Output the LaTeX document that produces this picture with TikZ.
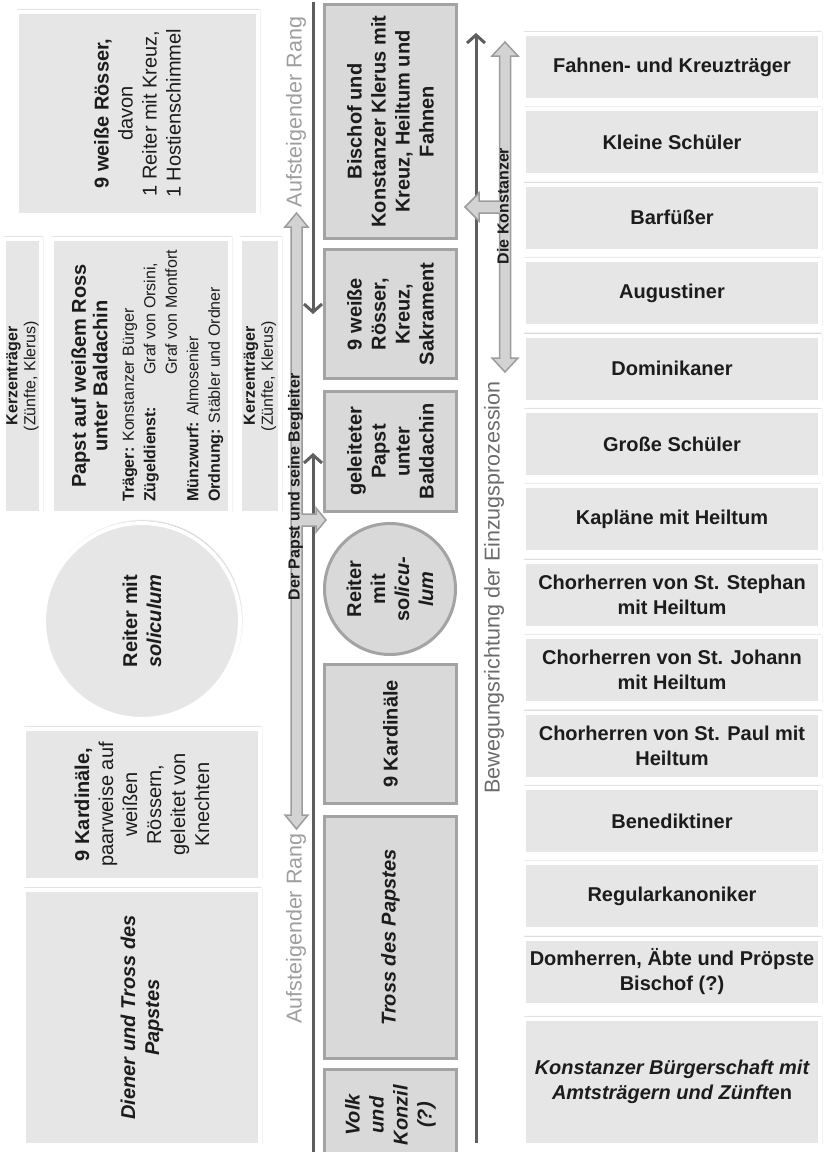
\documentclass[tikz,border=0pt]{standalone}
\usepackage{fontspec}
\setmainfont{Liberation Sans}
\usetikzlibrary{arrows.meta,shadows.blur}

\definecolor{outfill}{HTML}{E6E6E6}
\definecolor{midfill}{HTML}{D9D9D9}
\definecolor{midline}{HTML}{A3A3A3}
\definecolor{darkline}{HTML}{5E5E5E}
\definecolor{blockfill}{HTML}{D3D3D3}
\definecolor{blockline}{HTML}{9C9C9C}
\definecolor{rankgray}{HTML}{9E9E9E}
\definecolor{movegray}{HTML}{6B6B6B}
\definecolor{ink}{HTML}{1C1C1C}

\begin{document}
\begin{tikzpicture}[x=1pt,y=-1pt,
  every node/.style={text=ink,align=center},
  outbox/.style={draw=white,line width=4pt,fill=outfill,inner sep=1pt,
    blur shadow={shadow xshift=1pt,shadow yshift=1.5pt,shadow blur radius=2pt,shadow opacity=50},
    font=\fontsize{20}{24}\selectfont\bfseries},
  rowbox/.style={outbox,minimum width=296pt,minimum height=66pt,font=\fontsize{20}{25}\selectfont\bfseries},
  midbox/.style={draw=midline,line width=3pt,fill=midfill,inner sep=1pt,rotate=90,minimum height=132pt,
    font=\fontsize{20}{24}\selectfont\bfseries},
  rankarrow/.style={draw=darkline,line width=3pt,-{Straight Barb[length=8pt,width=18pt]}},
  blockarrow/.style={draw=blockline,line width=1.5pt,fill=blockfill},
  ranklabel/.style={rotate=90,text=rankgray,inner sep=0pt,font=\fontsize{21.5}{24}\selectfont},
  grouplabel/.style={rotate=90,inner sep=0pt,font=\fontsize{16}{18}\selectfont\bfseries}]
\clip (0,0) rectangle (824,1152);

% left column: the pope and his escort
\node[outbox,rotate=90,minimum width=203pt,minimum height=241pt] (roesserL) at (137.5,113.5)
  {9 weiße Rösser,\\\mdseries davon\\\mdseries 1 Reiter mit Kreuz,\\\mdseries 1 Hostienschimmel};
\node[outbox,rotate=90,minimum width=274pt,minimum height=37pt,font=\fontsize{16}{18}\selectfont] (kerzeL) at (22.5,376)
  {\textbf{Kerzenträger}\\(Zünfte, Klerus)};
\node[outbox,rotate=90,minimum width=274pt,minimum height=178pt,font=\fontsize{16}{21.5}\selectfont] (papstL) at (141,376)
  {\fontsize{20}{23}\selectfont\bfseries\rule{0pt}{30pt}Papst auf weißem Ross\\\fontsize{20}{23}\selectfont\bfseries unter Baldachin\\[5pt]
  \fontsize{16}{21.5}\selectfont\mdseries
  \begin{tabular}[t]{@{}l@{}}
  \textbf{Träger:} Konstanzer Bürger\\
  \textbf{Zügeldienst:}\hspace{32pt}\begin{tabular}[t]{@{}l@{}}Graf von Orsini,\\Graf von Montfort\end{tabular}\\
  \textbf{Münzwurf:} Almosenier\\
  \textbf{Ordnung:} Stäbler und Ordner
  \end{tabular}};
\node[outbox,rotate=90,minimum width=274pt,minimum height=40pt,font=\fontsize{16}{18}\selectfont] (kerzeR) at (260,376)
  {\textbf{Kerzenträger}\\(Zünfte, Klerus)};
\node[outbox,circle,rotate=90,minimum size=196pt] (reiterL) at (142,621) {Reiter mit\\\itshape soliculum};
\node[outbox,rotate=90,minimum width=151pt,minimum height=236pt] (kardL) at (142,804.5)
  {9 Kardinäle,\\\mdseries paarweise auf\\\mdseries weißen\\\mdseries Rössern,\\\mdseries geleitet von\\\mdseries Knechten};
\node[outbox,rotate=90,minimum width=255pt,minimum height=236pt,font=\fontsize{20}{24}\selectfont\bfseries\itshape] (dienerL) at (142,1017.5)
  {Diener und Tross des\\Papstes};

% middle column: the procession
\node[midbox,minimum width=234pt] (bischof) at (390.5,121.5) {Bischof und\\Konstanzer Klerus mit\\Kreuz, Heiltum und\\Fahnen};
\node[midbox,minimum width=129pt] (roesserM) at (390.5,314) {9 weiße\\Rösser,\\Kreuz,\\Sakrament};
\node[midbox,minimum width=120pt] (papstM) at (390.5,451.5) {geleiteter\\Papst\\unter\\Baldachin};
\node[midbox,circle,minimum size=131pt] (reiterM) at (390,589) {Reiter\\mit\\so\textit{licu-}\\\textit{lum}};
\node[midbox,minimum width=139pt] (kardM) at (390.5,734) {9 Kardinäle};
\node[midbox,minimum width=242pt,font=\fontsize{20}{24}\selectfont\bfseries\itshape] (trossM) at (390.5,937.5) {Tross des Papstes};
\node[midbox,minimum width=91pt,font=\fontsize{20}{24}\selectfont\bfseries\itshape] (volkM) at (390.5,1115) {Volk\\und\\Konzil\\(?)};

% right column: the Konstanz clergy and citizens
\node[rowbox] (fahnen) at (672,67) {Fahnen- und Kreuzträger};
\node[rowbox] (schuelerK) at (672,142.4) {Kleine Schüler};
\node[rowbox] (barfuesser) at (672,217.8) {Barfüßer};
\node[rowbox] (augustiner) at (672,293.2) {Augustiner};
\node[rowbox] (dominikaner) at (672,368.6) {Dominikaner};
\node[rowbox] (schuelerG) at (672,444) {Große Schüler};
\node[rowbox] (kaplaene) at (672,519.4) {Kapläne mit Heiltum};
\node[rowbox] (stephan) at (672,594.8) {Chorherren von St. Stephan\\mit Heiltum};
\node[rowbox] (johann) at (672,670.2) {Chorherren von St. Johann\\mit Heiltum};
\node[rowbox] (paul) at (672,745.6) {Chorherren von St. Paul mit\\Heiltum};
\node[rowbox] (benedikt) at (672,821) {Benediktiner};
\node[rowbox] (regular) at (672,896.4) {Regularkanoniker};
\node[rowbox] (domherren) at (672,971.8) {Domherren, Äbte und Pröpste\\Bischof (?)};
\node[rowbox,minimum height=126pt,font=\fontsize{20}{25}\selectfont\bfseries\itshape] (buerger) at (672,1082)
  {Konstanzer Bürgerschaft mit\\Amtsträgern und Zünfte\textup{n}};

% direction arrows
\coordinate (rangA) at (313,2);
\coordinate (rangB) at (313,314);
\coordinate (zugA) at (313,1152);
\coordinate (zugB) at (313,453);
\coordinate (bewA) at (476,1143);
\coordinate (bewB) at (476,33);
\draw[rankarrow] (rangA) -- (rangB);
\draw[rankarrow] (zugA) -- (zugB);
\draw[rankarrow] (bewA) -- (bewB);

% group brackets
\draw[blockarrow] (296.5,213) -- (308,227) -- (302,227) -- (302,514) -- (316,514) -- (316,508) -- (326,520)
  -- (316,532) -- (316,526) -- (302,526) -- (302,815) -- (308,815) -- (296.5,829) -- (285,815)
  -- (291,815) -- (291,227) -- (285,227) -- cycle;
\draw[blockarrow] (505,42) -- (518,56) -- (510.5,56) -- (510.5,358) -- (518,358) -- (505,372) -- (492,358)
  -- (499.5,358) -- (499.5,213) -- (479,213) -- (479,221) -- (465,207) -- (479,193) -- (479,201)
  -- (499.5,201) -- (499.5,56) -- (492,56) -- cycle;

% labels
\node[ranklabel] (rangO) at (296,112) {Aufsteigender Rang};
\node[ranklabel] (rangU) at (296,928.5) {Aufsteigender Rang};
\node[grouplabel] (begleiter) at (295.5,487) {Der Papst und seine Begleiter};
\node[grouplabel] (konstanzer) at (503,206) {Die Konstanzer};
\node[rotate=90,text=movegray,inner sep=0pt,font=\fontsize{21.5}{24}\selectfont] (bewegung) at (494,587.5)
  {Bewegungsrichtung der Einzugsprozession};
\end{tikzpicture}
\end{document}
